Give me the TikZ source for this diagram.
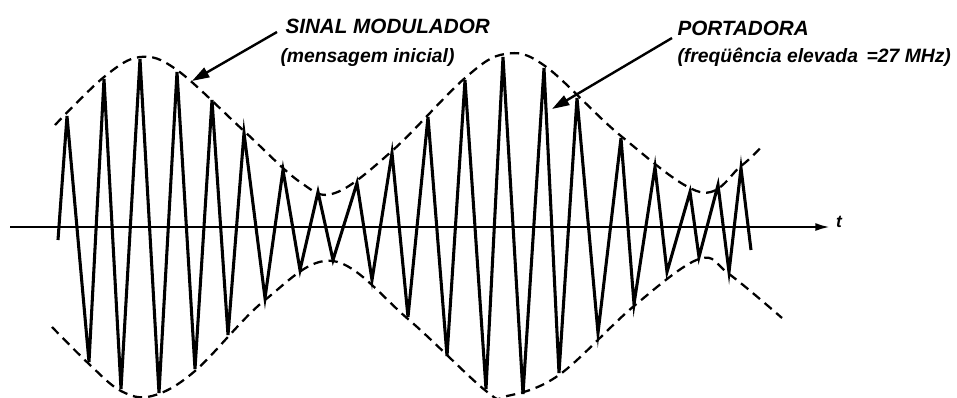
\documentclass[tikz,border=0pt]{standalone}
\usepackage{fontspec}
\newfontfamily\lblfont{Liberation Sans}
\usetikzlibrary{arrows.meta}
\tikzset{every picture/.style={line width=0.75pt}}

\begin{document}
\begin{tikzpicture}[x=0.75pt,y=0.75pt,yscale=-1,xscale=1,
    lbl/.style={anchor=west,inner sep=0pt,font=\lblfont\bfseries\itshape\fontsize{14.5}{16}\selectfont},
    caplbl/.style={lbl,font=\lblfont\bfseries\itshape\fontsize{15.5}{17}\selectfont},
    envelope/.style={line width=1.7pt,dash pattern=on 7pt off 4.5pt},
    pointer/.style={line width=1.8pt,-{Triangle[length=13pt,width=8pt]}}]
    \useasboundingbox (0,0) rectangle (957,397);

    % time axis
    \coordinate (ax0) at (10,227);
    \coordinate (ax1) at (830,227);
    \draw[line width=1.8pt,-{Latex[length=11pt,width=6pt]}] (ax0) -- (ax1);
    \node (tlbl) [lbl,anchor=center,font=\lblfont\bfseries\itshape\fontsize{13}{15}\selectfont] at (839,222) {t};

    % envelopes
    \draw[envelope] plot[smooth,tension=0.6] coordinates {(55,125) (104,77) (140,57) (177,70) (244,131) (300,182) (335,193) (392,151) (465,78) (505,54) (545,66) (621,136) (700,192) (741,166) (763,145)};
    \draw[envelope] plot[smooth,tension=0.6] coordinates {(52,327) (89,364) (121,391) (152,396) (195,371) (265,300) (333,261) (408,319) (486,391) (507,396) (559,375) (634,306) (699,259) (729,274) (782,318)};

    % carrier
    \draw[line width=2.3pt,line join=miter] plot coordinates {(58,240)
        (67,116) (89,362) (104,79) (121,389) (140,59) (159,393) (177,72) (195,369)
        (212,100) (228,335) (244,133) (265,298) (283,170) (300,270) (318,192) (333,260)
        (357,183) (372,280) (392,153) (408,317) (428,117) (447,356) (465,80) (486,389)
        (503,57) (523,394) (544,68) (559,373) (577,98) (598,333) (621,138) (634,304)
        (655,167) (667,272) (690,192) (699,257) (718,185) (729,272) (741,168) (751,250)};

    % labels
    \node (sinal) [caplbl] at (285,26) {SINAL MODULADOR};
    \node (mensagem) [lbl] at (280,57) {(mensagem inicial)};
    \node (portadora) [caplbl] at (677,28) {PORTADORA};
    \node (freq) [lbl] at (677,57) {(freqüência elevada \,=27 MHz)};

    \coordinate (sinalA) at (277,32);
    \coordinate (sinalB) at (192,81);
    \coordinate (portA) at (672,38);
    \coordinate (portB) at (552,109);
    \draw[pointer] (sinalA) -- (sinalB);
    \draw[pointer] (portA) -- (portB);
\end{tikzpicture}
\end{document}
